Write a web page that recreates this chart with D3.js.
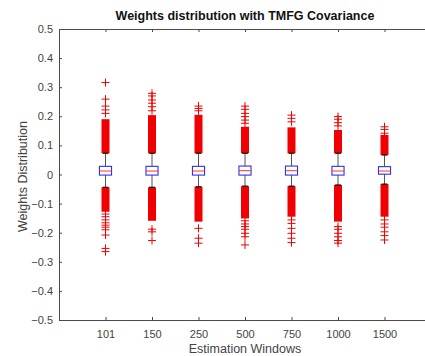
<!DOCTYPE html>
<html lang="en">
<head>
  <meta charset="utf-8">
  <title>Weights distribution with TMFG Covariance</title>
  <script src="https://d3js.org/d3.v7.min.js"></script>
  <style>
    body { margin: 0; background: #fff; }
    text { font-family: "Liberation Sans", Arial, sans-serif; }
  </style>
</head>
<body>
  <svg id="chart" width="425" height="356"></svg>

  <script>
    // estimation windows (categories)
    const windows = ["101", "150", "250", "500", "750", "1000", "1500"];

    // box statistics
    const q1 = [-0.002, -0.002, -0.002, -0.002, -0.002, -0.002, 0.001];
    const median = [0.012, 0.012, 0.012, 0.013, 0.013, 0.012, 0.012];
    const q3 = [0.028, 0.028, 0.028, 0.029, 0.029, 0.028, 0.027];
    const whiskerHi = [0.073, 0.073, 0.073, 0.073, 0.073, 0.073, 0.067];
    const whiskerLo = [-0.044, -0.044, -0.042, -0.040, -0.040, -0.036, -0.033];

    // densely packed outliers (they merge into a solid red column)
    const denseHiTop = [0.190, 0.204, 0.205, 0.164, 0.162, 0.153, 0.136];
    const denseLoBottom = [-0.128, -0.159, -0.162, -0.151, -0.145, -0.162, -0.145];

    // separate outliers
    const outliersHi = [
      [0.316, 0.259, 0.235, 0.222, 0.210],
      [0.279, 0.270, 0.256, 0.245, 0.233, 0.219],
      [0.235, 0.227, 0.219],
      [0.235, 0.224, 0.210, 0.199, 0.187, 0.176],
      [0.204, 0.193, 0.181],
      [0.199, 0.190, 0.178, 0.167],
      [0.164, 0.155, 0.142]
    ];
    const outliersLo = [
      [-0.136, -0.145, -0.156, -0.166, -0.174, -0.181, -0.190, -0.208, -0.254, -0.265],
      [-0.188, -0.197, -0.227],
      [-0.185, -0.219, -0.236],
      [-0.159, -0.170, -0.179, -0.188, -0.202, -0.214, -0.242],
      [-0.156, -0.168, -0.185, -0.202, -0.219, -0.234],
      [-0.179, -0.188, -0.202, -0.214, -0.227, -0.236],
      [-0.156, -0.170, -0.181, -0.197, -0.210, -0.225]
    ];

    const yTicks = [-0.5, -0.4, -0.3, -0.2, -0.1, 0, 0.1, 0.2, 0.3, 0.4, 0.5];

    const svg = d3.select("#chart");
    const mLeft = 59, mRight = 431, mTop = 29, mBottom = 320;

    const x = d3.scaleLinear().domain([0, windows.length + 1]).range([mLeft, mRight]);
    const y = d3.scaleLinear().domain([-0.5, 0.5]).range([mBottom, mTop]);

    const boxW = x(0.26) - x(0);
    const capW = x(0.125) - x(0);
    const plus = 4;
    const red = "#f00000";

    // frame and axes (MATLAB style, ticks inward)
    const axisColor = "#4a4a4a";
    const tickPos = windows.map((d, i) => i + 1);

    const gx = svg.append("g").attr("transform", `translate(0,${mBottom})`)
      .call(d3.axisBottom(x).tickValues(tickPos).tickFormat((d, i) => windows[i])
        .tickSizeInner(-3).tickSizeOuter(0).tickPadding(10));
    const gxTop = svg.append("g").attr("transform", `translate(0,${mTop})`)
      .call(d3.axisTop(x).tickValues(tickPos).tickFormat("")
        .tickSizeInner(-3).tickSizeOuter(0));
    const gy = svg.append("g").attr("transform", `translate(${mLeft},0)`)
      .call(d3.axisLeft(y).tickValues(yTicks).tickFormat(d => d === 0 ? "0" : d3.format(".1f")(d))
        .tickSizeInner(-3).tickSizeOuter(0).tickPadding(6));

    [gx, gxTop, gy].forEach(g => {
      g.select(".domain").attr("stroke", axisColor);
      g.selectAll(".tick line").attr("stroke", axisColor);
      g.selectAll(".tick text").attr("fill", "#444").style("font-size", "11px");
    });

    // box plots
    const groups = svg.append("g").selectAll("g")
      .data(windows)
      .join("g");

    groups.each(function (w, i) {
      const g = d3.select(this);
      const cx = x(i + 1);

      // dense outlier columns
      g.append("rect")
        .attr("x", cx - plus).attr("width", plus * 2)
        .attr("y", y(denseHiTop[i])).attr("height", y(whiskerHi[i]) - y(denseHiTop[i]))
        .attr("fill", red);
      g.append("rect")
        .attr("x", cx - plus).attr("width", plus * 2)
        .attr("y", y(whiskerLo[i])).attr("height", y(denseLoBottom[i]) - y(whiskerLo[i]))
        .attr("fill", red);

      // whiskers
      g.append("line")
        .attr("x1", cx).attr("x2", cx)
        .attr("y1", y(q3[i])).attr("y2", y(whiskerHi[i]))
        .attr("stroke", "#555").attr("stroke-width", 1);
      g.append("line")
        .attr("x1", cx).attr("x2", cx)
        .attr("y1", y(q1[i])).attr("y2", y(whiskerLo[i]))
        .attr("stroke", "#555").attr("stroke-width", 1);
      [whiskerHi[i], whiskerLo[i]].forEach(v => {
        g.append("line")
          .attr("x1", cx - capW / 2).attr("x2", cx + capW / 2)
          .attr("y1", y(v)).attr("y2", y(v))
          .attr("stroke", "#111").attr("stroke-width", 1.2);
      });

      // box
      g.append("rect")
        .attr("x", cx - boxW / 2).attr("width", boxW)
        .attr("y", y(q3[i])).attr("height", y(q1[i]) - y(q3[i]))
        .attr("fill", "none").attr("stroke", "#3030e8").attr("stroke-width", 1.1);
      g.append("line")
        .attr("x1", cx - boxW / 2).attr("x2", cx + boxW / 2)
        .attr("y1", y(median[i])).attr("y2", y(median[i]))
        .attr("stroke", "#ff3030").attr("stroke-width", 1);

      // separate outliers as "+"
      const pts = outliersHi[i].concat(outliersLo[i]);
      g.selectAll("path.out")
        .data(pts)
        .join("path")
        .attr("class", "out")
        .attr("d", v => `M${cx - plus},${y(v)}H${cx + plus}M${cx},${y(v) - plus}V${y(v) + plus}`)
        .attr("stroke", red).attr("stroke-width", 1).attr("fill", "none");
    });

    // title and axis labels
    svg.append("text")
      .attr("x", 245).attr("y", 20)
      .attr("text-anchor", "middle")
      .style("font-size", "12.5px").style("font-weight", "bold")
      .attr("fill", "#111")
      .text("Weights distribution with TMFG Covariance");

    svg.append("text")
      .attr("x", 245).attr("y", 353)
      .attr("text-anchor", "middle")
      .style("font-size", "12.5px")
      .attr("fill", "#444")
      .text("Estimation Windows");

    svg.append("text")
      .attr("transform", `translate(27,${(mTop + mBottom) / 2 + 2}) rotate(-90)`)
      .attr("text-anchor", "middle")
      .style("font-size", "12.5px")
      .attr("fill", "#444")
      .text("Weights Distribution");
  </script>
</body>
</html>
